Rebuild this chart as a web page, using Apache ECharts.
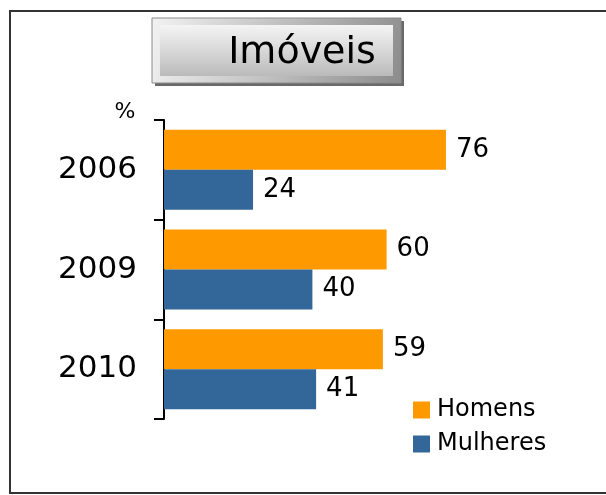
<!DOCTYPE html>
<html><head><meta charset="utf-8">
<script src="https://cdn.jsdelivr.net/npm/echarts@6/dist/echarts.min.js"></script>
<style>html,body{margin:0;padding:0;background:#fff}#c{width:606px;height:495px}</style>
</head><body><div id="c"></div>
<script>
const categories = ['2006', '2009', '2010'];
const homens = [76, 60, 59];
const mulheres = [24, 40, 41];
const titleText = 'Imóveis';
const unitText = '%';

const chart = echarts.init(document.getElementById('c'), null, {renderer: 'canvas'});
const font = '"DejaVu Sans", Verdana, sans-serif';
chart.setOption({
  animation: false,
  backgroundColor: '#fff',
  grid: {left: 164, top: 120, width: 371, height: 299},
  xAxis: {type: 'value', min: 0, max: 100, show: false},
  yAxis: {
    type: 'category', data: categories, inverse: true,
    axisLine: {show: true, lineStyle: {color: '#000', width: 2}},
    axisTick: {show: true, inside: false, length: 10, lineStyle: {color: '#000', width: 2}},
    axisLabel: {fontFamily: font, fontSize: 31, color: '#000', margin: 27}
  },
  legend: {
    orient: 'vertical', left: 413, top: 398, padding: 0, itemWidth: 17, itemHeight: 17, itemGap: 10,
    icon: 'rect',
    textStyle: {fontFamily: font, fontSize: 24, color: '#000', lineHeight: 24, padding: [0,0,0,2]},
    data: ['Homens', 'Mulheres']
  },
  series: [
    {name: 'Homens', type: 'bar', data: homens, barWidth: 40, barGap: '0%',
     itemStyle: {color: '#FF9900'},
     label: {show: true, position: 'right', distance: 10, fontFamily: font, fontSize: 26, color: '#000'}},
    {name: 'Mulheres', type: 'bar', data: mulheres, barWidth: 40, barGap: '0%',
     itemStyle: {color: '#336699'},
     label: {show: true, position: 'right', distance: 10, fontFamily: font, fontSize: 26, color: '#000'}}
  ],
  graphic: [
    {type: 'rect', shape: {x: 10, y: 11, width: 610, height: 482},
     style: {fill: 'none', stroke: '#333', lineWidth: 2}, z: 100},
    {type: 'rect', shape: {x: 155, y: 21, width: 249, height: 65},
     style: {fill: '#6a6a6a'}, z: 10},
    {type: 'rect', shape: {x: 152, y: 18, width: 249, height: 65},
     style: {fill: {type: 'linear', x: 0, y: 0, x2: 1, y2: 1,
       colorStops: [{offset: 0, color: '#f2f2f2'}, {offset: 1, color: '#8c8c8c'}]},
       stroke: '#8a8a8a', lineWidth: 1}, z: 11},
    {type: 'rect', shape: {x: 160, y: 25, width: 233, height: 51},
     style: {fill: {type: 'linear', x: 0, y: 0, x2: 0, y2: 1,
       colorStops: [{offset: 0, color: '#f4f4f4'}, {offset: 0.5, color: '#d8d8d8'}, {offset: 1, color: '#bababa'}]}}, z: 12},
    {type: 'text', x: 302, y: 53, z: 13,
     style: {text: titleText, fontFamily: font, fontSize: 38, fill: '#000', align: 'center', verticalAlign: 'middle'}},
    {type: 'text', x: 125, y: 112, z: 13,
     style: {text: unitText, fontFamily: font, fontSize: 22, fill: '#000', align: 'center', verticalAlign: 'middle'}}
  ]
});
</script></body></html>
